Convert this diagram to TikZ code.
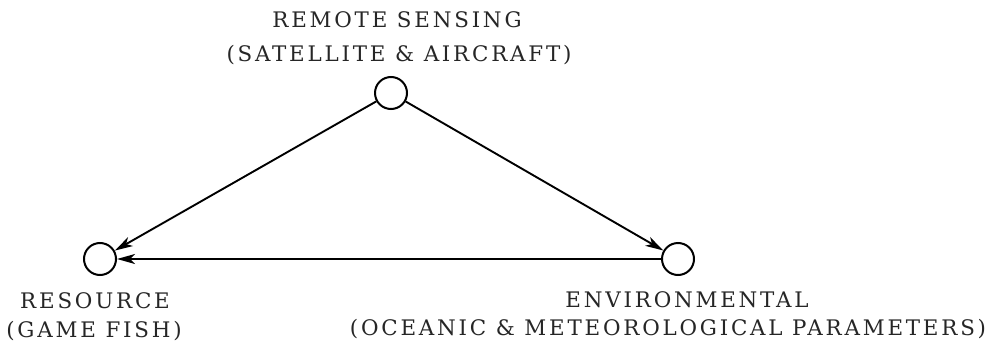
\documentclass[tikz,border=0pt]{standalone}
\usepackage{fontspec}
\usetikzlibrary{arrows.meta}
\newfontfamily\lblfont[LetterSpace=13]{DejaVu Serif}
\tikzset{
  station/.style={circle,draw=black,line width=2pt,minimum size=32pt,inner sep=0pt,fill=white},
  lbl/.style={anchor=base,inner sep=0pt,font=\lblfont\fontsize{21.4}{25}\selectfont,text=black!85},
  link/.style={line width=1.9pt,-{Stealth[length=18pt,width=10pt,inset=5pt]}}
}
\begin{document}
\begin{tikzpicture}[x=1pt,y=-1pt]
\useasboundingbox (0,0) rectangle (992,342);
\node[station] (rs) at (391,93) {};
\node[station] (res) at (100,259) {};
\node[station] (env) at (678,259) {};
\draw[link] (rs) -- (res);
\draw[link] (rs) -- (env);
\draw[link] (env) -- (res);
\node[lbl] (t1) at (397,28) {REMOTE SENSING};
\node[lbl] (t2) at (399,62) {(SATELLITE \& AIRCRAFT)};
\node[lbl] (r1) at (95,308) {RESOURCE};
\node[lbl] (r2) at (94,337) {(GAME FISH)};
\node[lbl] (e1) at (687,307) {ENVIRONMENTAL};
\node[lbl] (e2) at (668,335) {(OCEANIC \& METEOROLOGICAL PARAMETERS)};
\end{tikzpicture}
\end{document}
